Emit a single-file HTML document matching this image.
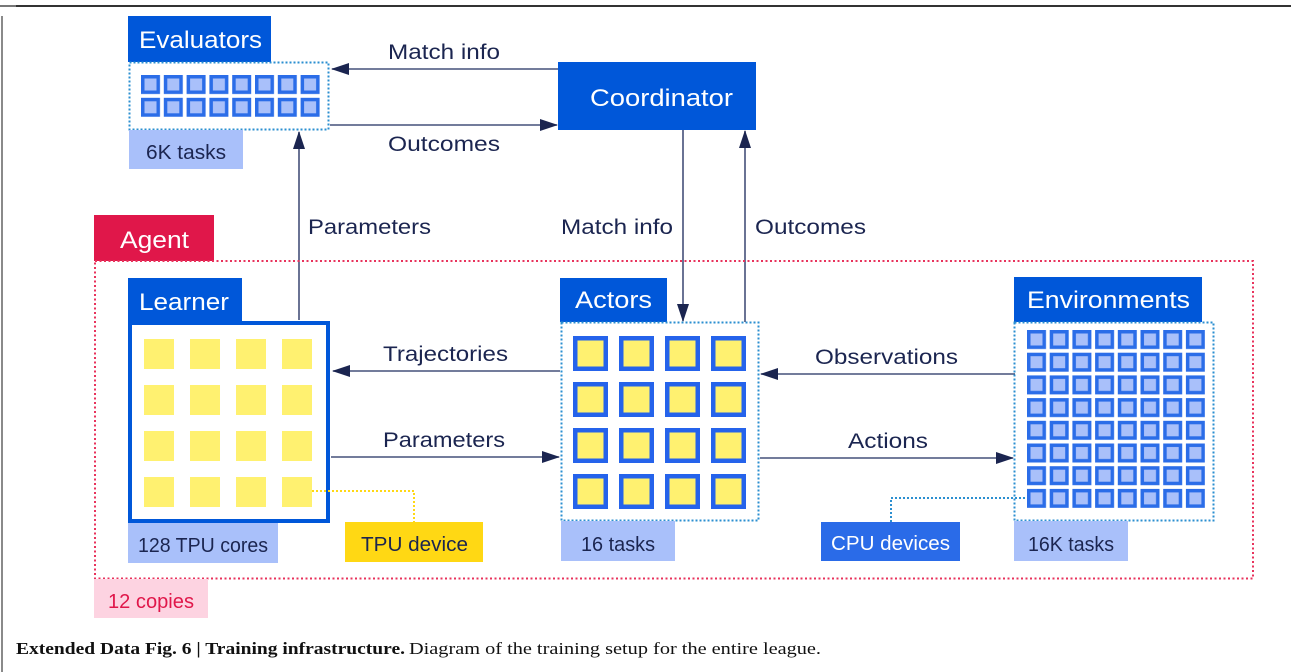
<!DOCTYPE html>
<html><head><meta charset="utf-8"><style>
html,body{margin:0;padding:0;background:#fff;}
svg{display:block;}
text{font-family:"Liberation Sans",sans-serif;}
</style></head><body>
<svg width="1291" height="672" viewBox="0 0 1291 672" xmlns="http://www.w3.org/2000/svg">
<defs>
<pattern id="bsq" x="141" y="75" width="22.8" height="22.8" patternUnits="userSpaceOnUse">
<rect x="0" y="0" width="19" height="19" fill="#2b6de8"/><rect x="3.5" y="3.5" width="12" height="12" fill="#a9c0fa"/>
</pattern>
<pattern id="esq" x="1027" y="330" width="22.7" height="22.7" patternUnits="userSpaceOnUse">
<rect x="0" y="0" width="19" height="19" fill="#2b6de8"/><rect x="3.5" y="3.5" width="12" height="12" fill="#a9c0fa"/>
</pattern>
<pattern id="asq" x="573" y="336" width="46" height="46" patternUnits="userSpaceOnUse">
<rect x="0" y="0" width="35" height="35" fill="#2563eb"/><rect x="4.5" y="4.5" width="26" height="26" fill="#fff170"/>
</pattern>
<pattern id="lsq" x="144" y="339" width="46" height="46" patternUnits="userSpaceOnUse">
<rect x="0" y="0" width="30" height="30" fill="#fff170"/>
</pattern>
<marker id="ah" markerWidth="18" markerHeight="12" refX="17" refY="6" orient="auto" markerUnits="userSpaceOnUse">
<path d="M0,0 L18,6 L0,12 Z" fill="#1b2550"/>
</marker>
</defs>

<rect x="0" y="5" width="1291" height="2" fill="#333"/>
<rect x="0" y="5" width="16" height="2" fill="#777"/>
<rect x="1" y="16" width="2" height="656" fill="#8a8a8a"/>

<!-- Evaluators -->
<rect x="128" y="16" width="143" height="46" fill="#0057d9"/>
<text x="139" y="48" font-size="24" fill="#fff" textLength="123" lengthAdjust="spacingAndGlyphs">Evaluators</text>
<rect x="129.5" y="62.5" width="199" height="67" fill="none" stroke="#2b8fd0" stroke-width="2" stroke-dasharray="2,2"/>
<rect x="141" y="75" width="180" height="42" fill="url(#bsq)"/>
<rect x="129" y="130" width="114" height="39" fill="#a9c0fa"/>
<text x="146" y="159" font-size="20" fill="#1b2550" textLength="80" lengthAdjust="spacingAndGlyphs">6K tasks</text>

<!-- Coordinator -->
<rect x="558" y="62" width="198" height="68" fill="#0057d9"/>
<text x="590" y="106" font-size="24" fill="#fff" textLength="143" lengthAdjust="spacingAndGlyphs">Coordinator</text>

<g stroke="#45507a" stroke-width="1.6" fill="none">
<line x1="558" y1="69" x2="332" y2="69" marker-end="url(#ah)"/>
<line x1="330" y1="125" x2="557" y2="125" marker-end="url(#ah)"/>
<line x1="299" y1="320" x2="299" y2="132" marker-end="url(#ah)"/>
<line x1="683" y1="130" x2="683" y2="321" marker-end="url(#ah)"/>
<line x1="745" y1="322" x2="745" y2="131" marker-end="url(#ah)"/>
<line x1="560" y1="371" x2="333" y2="371" marker-end="url(#ah)"/>
<line x1="331" y1="457" x2="559" y2="457" marker-end="url(#ah)"/>
<line x1="1015" y1="374" x2="761" y2="374" marker-end="url(#ah)"/>
<line x1="760" y1="458" x2="1013" y2="458" marker-end="url(#ah)"/>
</g>
<g font-size="21" fill="#1b2550" lengthAdjust="spacingAndGlyphs">
<text x="388" y="59" textLength="112" lengthAdjust="spacingAndGlyphs">Match info</text>
<text x="388" y="151" textLength="112" lengthAdjust="spacingAndGlyphs">Outcomes</text>
<text x="308" y="234" textLength="123" lengthAdjust="spacingAndGlyphs">Parameters</text>
<text x="561" y="234" textLength="112" lengthAdjust="spacingAndGlyphs">Match info</text>
<text x="755" y="234" textLength="111" lengthAdjust="spacingAndGlyphs">Outcomes</text>
<text x="383" y="361" textLength="125" lengthAdjust="spacingAndGlyphs">Trajectories</text>
<text x="383" y="447" textLength="122" lengthAdjust="spacingAndGlyphs">Parameters</text>
<text x="815" y="364" textLength="143" lengthAdjust="spacingAndGlyphs">Observations</text>
<text x="848" y="448" textLength="80" lengthAdjust="spacingAndGlyphs">Actions</text>
</g>

<!-- Agent -->
<rect x="94" y="215" width="120" height="46" fill="#e0174a"/>
<text x="120" y="248" font-size="24" fill="#fff" textLength="69" lengthAdjust="spacingAndGlyphs">Agent</text>
<rect x="95" y="261" width="1158" height="317.5" fill="none" stroke="#e8335c" stroke-width="2" stroke-dasharray="2,2.5"/>
<rect x="94" y="579" width="114" height="39" fill="#fdd3e1"/>
<text x="108" y="608" font-size="20" fill="#e0174a" textLength="86" lengthAdjust="spacingAndGlyphs">12 copies</text>

<!-- Learner -->
<rect x="128" y="278" width="114" height="45" fill="#0057d9"/>
<text x="139" y="310" font-size="24" fill="#fff" textLength="90" lengthAdjust="spacingAndGlyphs">Learner</text>
<rect x="130" y="323" width="198" height="198" fill="#fff" stroke="#0057d9" stroke-width="4"/>
<rect x="144" y="339" width="170" height="170" fill="url(#lsq)"/>
<rect x="128" y="523" width="150" height="40" fill="#a9c0fa"/>
<text x="138" y="552" font-size="20" fill="#1b2550" textLength="130" lengthAdjust="spacingAndGlyphs">128 TPU cores</text>
<polyline points="312,491 414,491 414,522" fill="none" stroke="#ffd814" stroke-width="2" stroke-dasharray="2,2"/>
<rect x="345" y="522" width="138" height="40" fill="#ffd814"/>
<text x="361" y="551" font-size="20" fill="#1b2550" textLength="107" lengthAdjust="spacingAndGlyphs">TPU device</text>

<!-- Actors -->
<rect x="560" y="278" width="107" height="44" fill="#0057d9"/>
<text x="575" y="308" font-size="24" fill="#fff" textLength="77" lengthAdjust="spacingAndGlyphs">Actors</text>
<rect x="561.5" y="322.5" width="197" height="198" fill="none" stroke="#2b8fd0" stroke-width="2" stroke-dasharray="2,2"/>
<rect x="573" y="336" width="173" height="173" fill="url(#asq)"/>
<rect x="561" y="521" width="114" height="40" fill="#a9c0fa"/>
<text x="581" y="551" font-size="20" fill="#1b2550" textLength="74" lengthAdjust="spacingAndGlyphs">16 tasks</text>

<!-- Environments -->
<rect x="1014" y="277" width="188" height="45" fill="#0057d9"/>
<text x="1027" y="308" font-size="24" fill="#fff" textLength="163" lengthAdjust="spacingAndGlyphs">Environments</text>
<rect x="1014.5" y="322.5" width="199" height="198" fill="none" stroke="#2b8fd0" stroke-width="2" stroke-dasharray="2,2"/>
<rect x="1027" y="330" width="178" height="178" fill="url(#esq)"/>
<rect x="1014" y="521" width="114" height="40" fill="#a9c0fa"/>
<text x="1028" y="551" font-size="20" fill="#1b2550" textLength="86" lengthAdjust="spacingAndGlyphs">16K tasks</text>
<polyline points="891,522 891,498 1027,498" fill="none" stroke="#2b8fd0" stroke-width="2" stroke-dasharray="2,2"/>
<rect x="821" y="522" width="139" height="39" fill="#2a6be8"/>
<text x="831" y="550" font-size="20" fill="#fff" textLength="119" lengthAdjust="spacingAndGlyphs">CPU devices</text>

<!-- caption -->
<text x="16" y="654" font-size="17" fill="#111" style="font-family:'Liberation Serif',serif"><tspan font-weight="bold" textLength="389" lengthAdjust="spacingAndGlyphs">Extended Data Fig. 6 | Training infrastructure.</tspan><tspan dx="4" textLength="412" lengthAdjust="spacingAndGlyphs">Diagram of the training setup for the entire league.</tspan></text>
</svg>
</body></html>
